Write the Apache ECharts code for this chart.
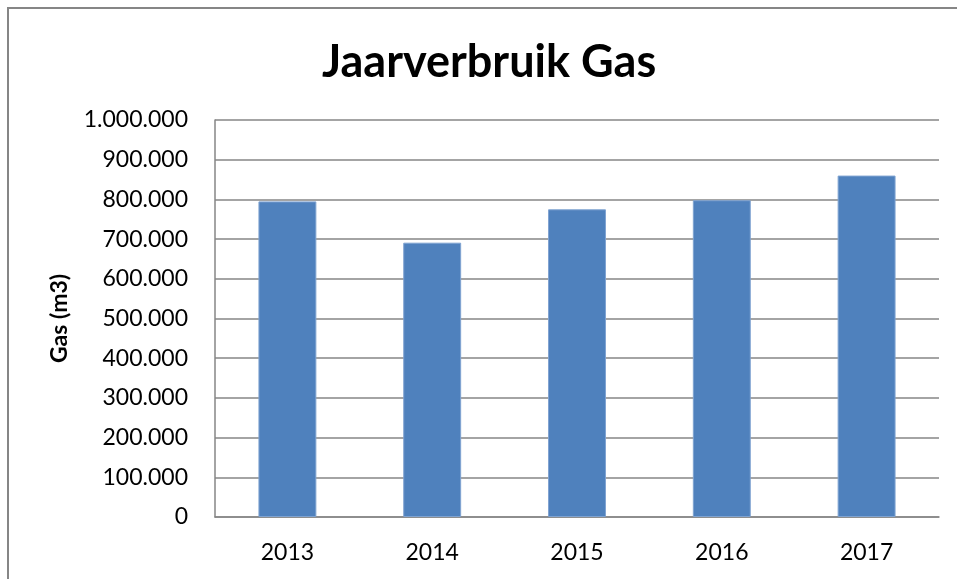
<!DOCTYPE html>
<html>
<head>
<meta charset="utf-8">
<script src="https://cdn.jsdelivr.net/npm/echarts@6/dist/echarts.min.js"></script>
<style>
  html, body { margin: 0; padding: 0; background: #fff; }
  #chart { width: 957px; height: 579px; }
</style>
</head>
<body>
<div id="chart"></div>
<script>
const years = ['2013', '2014', '2015', '2016', '2017'];
const gasUsage = [795000, 691000, 775000, 798000, 860000];
const yTicks = { min: 0, max: 1000000, interval: 100000 };

// Dutch style thousands separator: 1.000.000
const fmtNL = v => String(v).replace(/\B(?=(\d{3})+(?!\d))/g, '.');

const chart = echarts.init(document.getElementById('chart'));

chart.setOption({
  backgroundColor: '#fff',
  animation: false,
  textStyle: { fontFamily: 'Lato, Calibri, sans-serif' },
  title: {
    text: 'Jaarverbruik Gas',
    left: 317,
    top: 35,
    textStyle: { fontSize: 45, fontWeight: 'bold', color: '#000', fontFamily: 'Lato' }
  },
  graphic: [{
    type: 'rect',
    shape: { x: 8, y: 8, width: 1200, height: 1200 },
    style: { fill: 'none', stroke: '#868686', lineWidth: 2 },
    silent: true
  }],
  grid: { left: 215, right: 18, top: 120, bottom: 62 },
  xAxis: {
    type: 'category',
    data: years,
    axisLine: { show: true, lineStyle: { color: '#868686', width: 1.5 } },
    axisTick: { show: false },
    axisLabel: { color: '#000', fontSize: 23, margin: 24 }
  },
  yAxis: {
    type: 'value',
    min: yTicks.min,
    max: yTicks.max,
    interval: yTicks.interval,
    name: 'Gas (m3)',
    nameLocation: 'middle',
    nameGap: 144,
    nameTextStyle: { fontSize: 23, fontWeight: 'bold', color: '#000' },
    axisLine: { show: true, lineStyle: { color: '#868686', width: 1.5 } },
    axisTick: { show: false },
    splitLine: { lineStyle: { color: '#868686', width: 1.5 } },
    axisLabel: { color: '#000', fontSize: 23, margin: 27, formatter: fmtNL }
  },
  series: [{
    type: 'bar',
    data: gasUsage,
    barWidth: '40%',
    itemStyle: { color: '#4F81BD', borderColor: '#7FA3D1', borderWidth: 1 }
  }]
});
</script>
</body>
</html>
